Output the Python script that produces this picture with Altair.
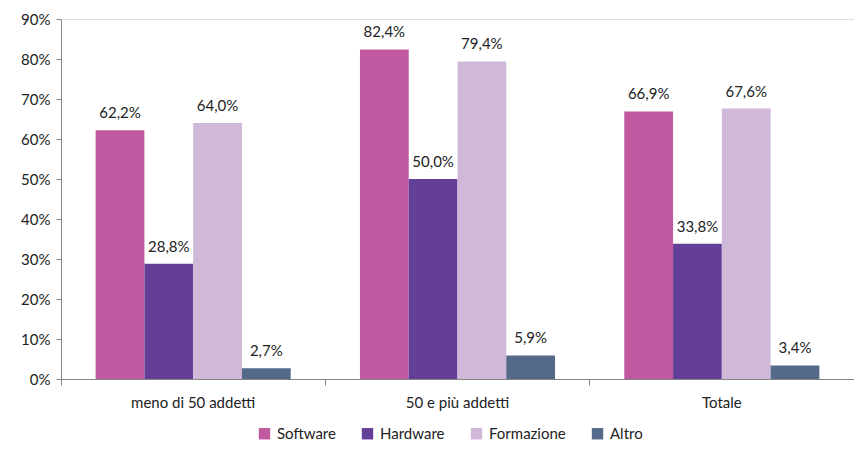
import altair as alt
import pandas as pd

categories = ["meno di 50 addetti", "50 e più addetti", "Totale"]
series = ["Software", "Hardware", "Formazione", "Altro"]
software = [62.2, 82.4, 66.9]
hardware = [28.8, 50.0, 33.8]
formazione = [64.0, 79.4, 67.6]
altro = [2.7, 5.9, 3.4]
colors = ["#C0599F", "#643F98", "#CFB8D8", "#546A8A"]
y_ticks = [0, 10, 20, 30, 40, 50, 60, 70, 80, 90]

rows = []
for s, vals in zip(series, [software, hardware, formazione, altro]):
    for c, v in zip(categories, vals):
        rows.append({"cat": c, "serie": s, "val": v,
                     "lab": f"{v:.1f}%".replace(".", ",")})
df = pd.DataFrame(rows)

FONT = "Lato"

x = alt.X("cat:N", sort=categories, title=None,
          scale=alt.Scale(paddingInner=0, paddingOuter=0),
          axis=alt.Axis(labelAngle=0, bandPosition=0, labelFontSize=15,
                        labelFont=FONT, labelColor="#222", labelPadding=10,
                        tickSize=6, tickColor="#868686", domainColor="#868686"))
xo = alt.XOffset("serie:N", sort=series,
                 scale=alt.Scale(paddingInner=0, paddingOuter=0.71))
y = alt.Y("val:Q", title=None,
          scale=alt.Scale(domain=[0, 90], nice=False),
          axis=alt.Axis(values=y_ticks, labelExpr="datum.value + '%'",
                        grid=False, labelFontSize=15, labelFont=FONT,
                        labelColor="#222", tickSize=5, labelPadding=6,
                        tickColor="#868686", domainColor="#868686"))

bars = alt.Chart(df).mark_bar().encode(
    x=x, xOffset=xo, y=y,
    color=alt.Color("serie:N", sort=series,
                    scale=alt.Scale(domain=series, range=colors),
                    legend=alt.Legend(title=None, orient="none", direction="horizontal",
                                      legendX=196, legendY=407,
                                      symbolType="square", symbolSize=130,
                                      symbolStrokeWidth=0,
                                      labelFontSize=15, labelFont=FONT,
                                      labelColor="#222", columnPadding=24,
                                      symbolOffset=0, labelOffset=5))
)

text = alt.Chart(df).mark_text(baseline="bottom", dy=-9, fontSize=15,
                               font=FONT, color="#222").encode(
    x=x, xOffset=xo, y=y, text="lab:N"
)

chart = (bars + text).properties(
    width=793, height=360,
    autosize=alt.AutoSizeParams(type="none"),
    padding={"left": 53, "top": 11, "right": 0, "bottom": 62},
).configure_view(stroke=None).configure(background="white")

chart.save("out.html", embed_options={"renderer": "svg", "actions": False})
